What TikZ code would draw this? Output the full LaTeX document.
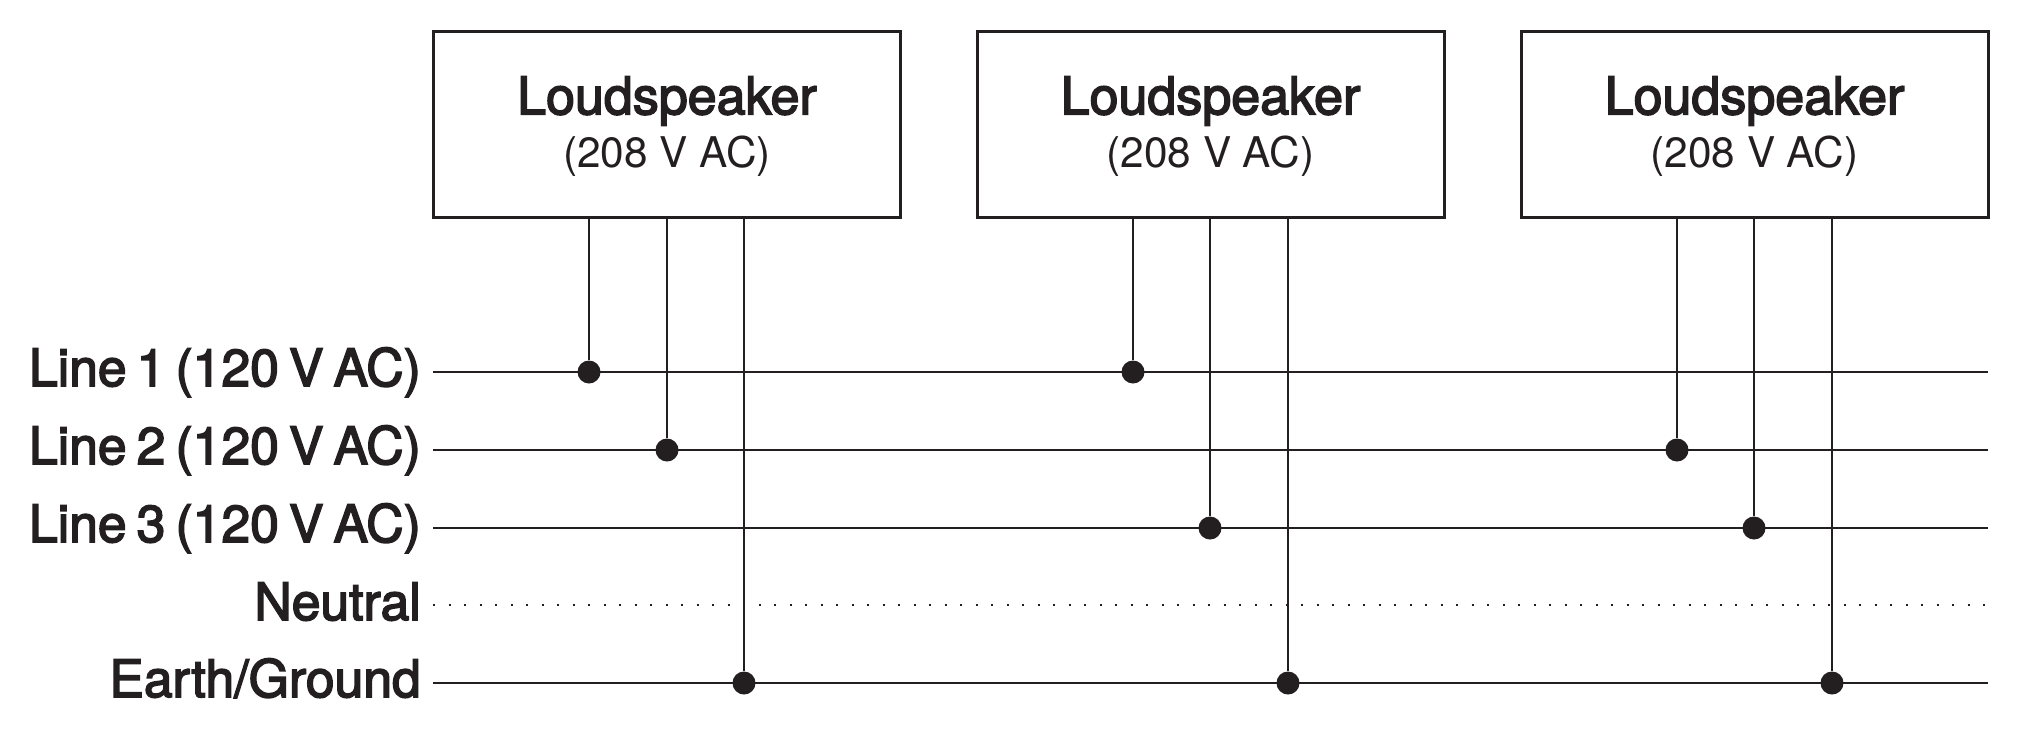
\documentclass[tikz,border=0pt]{standalone}
\usepackage{fontspec}
\usepackage{xcolor}
\setmainfont{TeX Gyre Heros}
\newfontfamily\medfont[FakeBold=3]{TeX Gyre Heros}
\newfontfamily\labelfont[FakeBold=3,WordSpace=0.7]{TeX Gyre Heros}
\definecolor{ink}{HTML}{231F20}
\begin{document}
\begin{tikzpicture}[x=1pt, y=-1pt, ink,
		speaker/.style={draw=ink, line width=3pt, minimum width=467pt, minimum height=186pt, inner sep=0pt, align=center, font=\fontsize{42.3}{53.5}\selectfont},
		rowlabel/.style={anchor=base east, inner sep=0pt, font=\labelfont\fontsize{51.7}{53}\selectfont},
		wire/.style={draw=ink, line width=1.3pt},
		neutralwire/.style={draw=ink, line width=2pt, dash pattern=on 2pt off 13.5pt},
		junction/.style={circle, fill=ink, inner sep=0pt, minimum size=23pt}]
	\useasboundingbox (0,0) rectangle (2018,734);

	\node[speaker] (spk1) at (667,124) {{\medfont\fontsize{52}{53.5}\selectfont\rule{0pt}{43pt}Loudspeaker}\\(208 V AC)};
	\node[speaker] (spk2) at (1210.5,124) {{\medfont\fontsize{52}{53.5}\selectfont\rule{0pt}{43pt}Loudspeaker}\\(208 V AC)};
	\node[speaker] (spk3) at (1754.5,124) {{\medfont\fontsize{52}{53.5}\selectfont\rule{0pt}{43pt}Loudspeaker}\\(208 V AC)};

	\node[rowlabel] (lab1) at (421,386) {Line 1 (120 V AC)};
	\node[rowlabel] (lab2) at (421,464) {Line 2 (120 V AC)};
	\node[rowlabel] (lab3) at (421,542) {Line 3 (120 V AC)};
	\node[rowlabel] (labn) at (421,620) {Neutral};
	\node[rowlabel] (labg) at (421,697) {Earth/Ground};

	\coordinate (start1) at (433,372);
	\coordinate (start2) at (433,450);
	\coordinate (start3) at (433,528);
	\coordinate (startn) at (433,605);
	\coordinate (startg) at (433,683);
	\coordinate (end1) at (1988,372);
	\coordinate (end2) at (1988,450);
	\coordinate (end3) at (1988,528);
	\coordinate (endn) at (1988,605);
	\coordinate (endg) at (1988,683);

	\draw[wire] (start1) -- (end1);
	\draw[wire] (start2) -- (end2);
	\draw[wire] (start3) -- (end3);
	\draw[neutralwire] (startn) -- (endn);
	\draw[wire] (startg) -- (endg);

	\node[junction] (a1) at (589,372) {};
	\node[junction] (a2) at (667,450) {};
	\node[junction] (ag) at (744,683) {};
	\node[junction] (b1) at (1133,372) {};
	\node[junction] (b3) at (1210,528) {};
	\node[junction] (bg) at (1288,683) {};
	\node[junction] (c2) at (1677,450) {};
	\node[junction] (c3) at (1754,528) {};
	\node[junction] (cg) at (1832,683) {};

	\draw[wire] (spk1.south -| a1) -- (a1);
	\draw[wire] (spk1.south -| a2) -- (a2);
	\draw[wire] (spk1.south -| ag) -- (ag);
	\draw[wire] (spk2.south -| b1) -- (b1);
	\draw[wire] (spk2.south -| b3) -- (b3);
	\draw[wire] (spk2.south -| bg) -- (bg);
	\draw[wire] (spk3.south -| c2) -- (c2);
	\draw[wire] (spk3.south -| c3) -- (c3);
	\draw[wire] (spk3.south -| cg) -- (cg);
\end{tikzpicture}
\end{document}
